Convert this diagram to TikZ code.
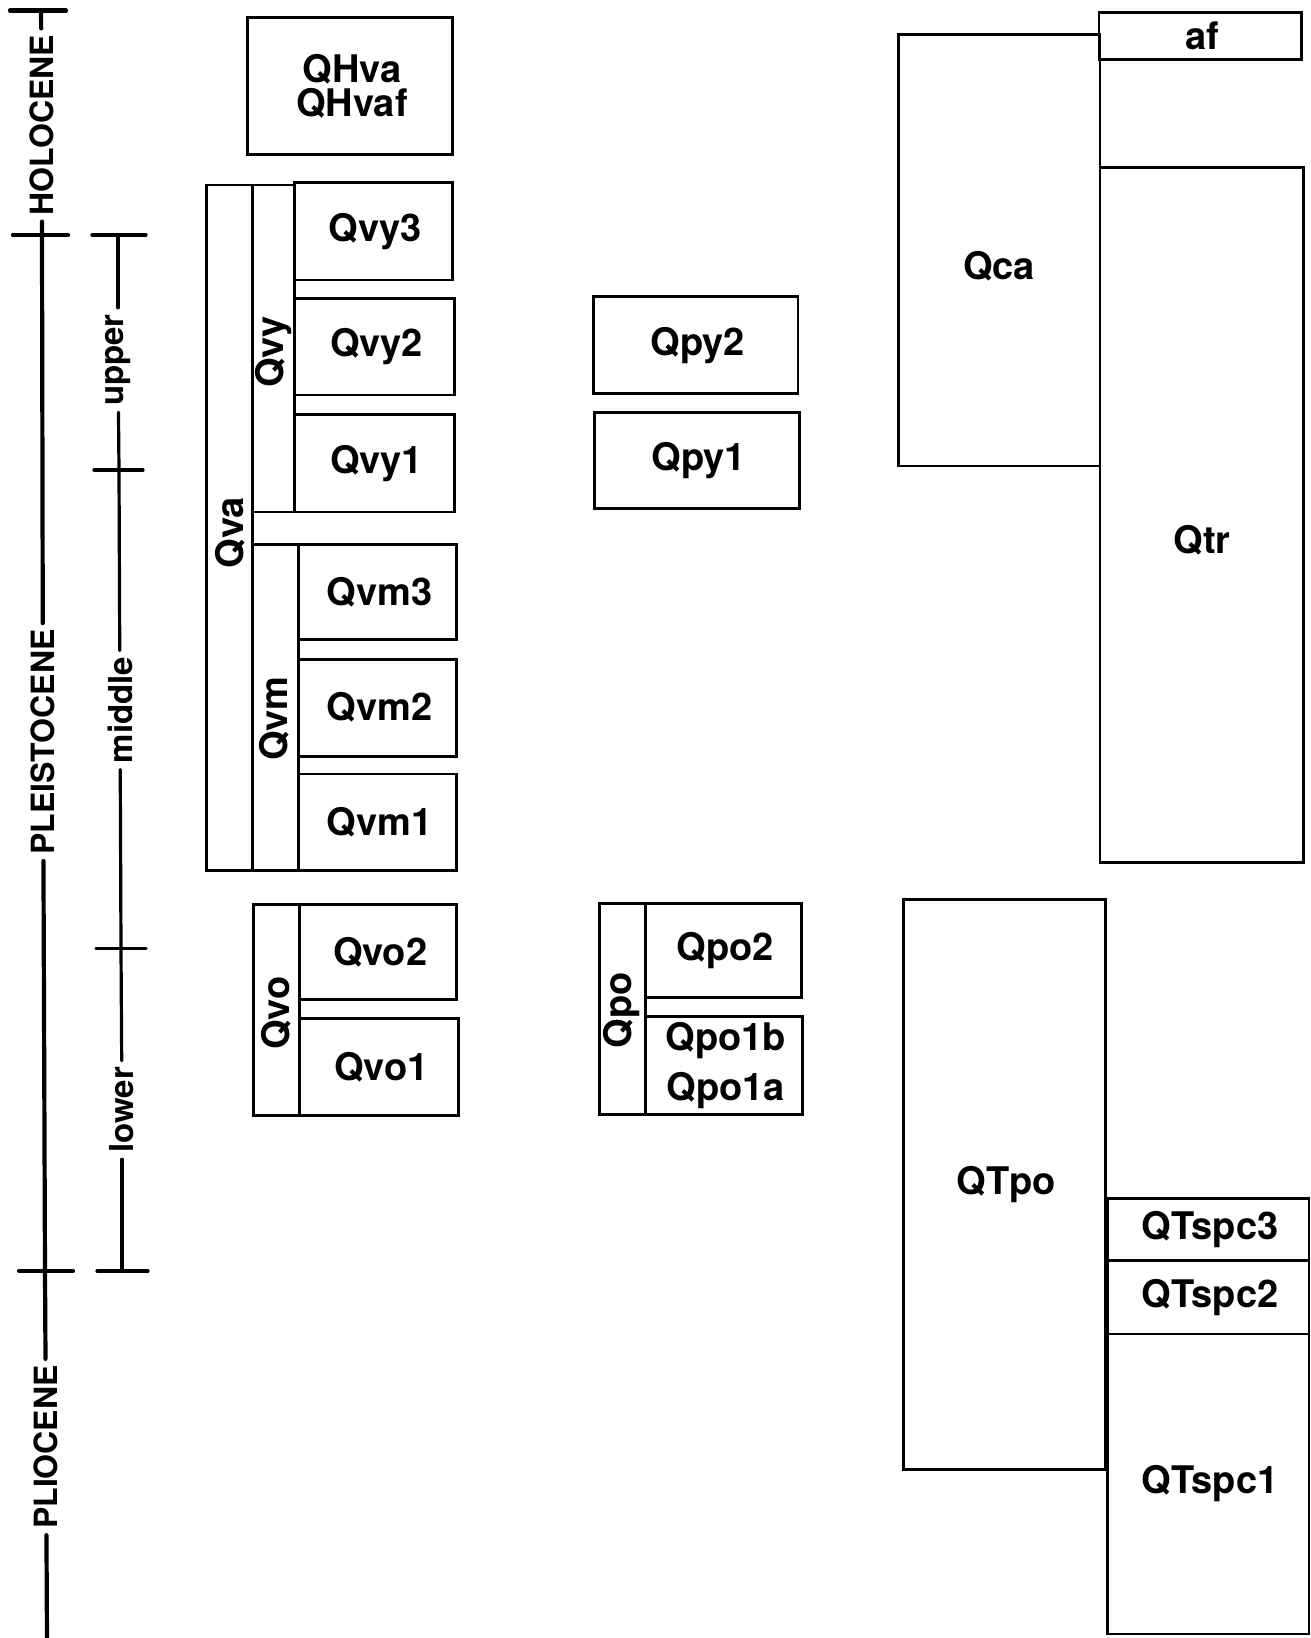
\documentclass[tikz,border=0pt]{standalone}
\usepackage{fontspec}
\setmainfont{TeX Gyre Heros}
\usetikzlibrary{fit}
\newcommand\gbox[6]{\node[box,fit={(#2,#3)(#4,#5)}] (#1) {};
  \node[lab] (#1-t) at ([xshift=1pt]#1.center) {#6};}
\begin{document}
\begin{tikzpicture}[x=0.5pt,y=-0.5pt,
  box/.style={draw, line width=1.4pt, inner sep=0pt},
  lab/.style={inner sep=0pt, align=center, font=\fontsize{19}{15.8}\selectfont\bfseries},
  rlab/.style={rotate=90, inner sep=0pt, font=\fontsize{19}{20}\selectfont\bfseries},
  epoch/.style={rotate=90, inner xsep=3pt, inner ysep=0pt, font=\fontsize{16}{18}\selectfont\bfseries},
  subep/.style={rotate=90, inner xsep=3pt, inner ysep=0pt, font=\fontsize{16.5}{18}\selectfont\bfseries},
  mainline/.style={line width=2.1pt, line cap=round},
  subline/.style={line width=1.6pt, line cap=round}]
\useasboundingbox (0,0) rectangle (1311,1638);

% main epoch timeline
\coordinate (m0) at (41,10.4);
\node[epoch] (holo) at (42,125) {HOLOCENE};
\coordinate (m1) at (42,235);
\node[epoch] (pleis) at (43,742) {PLEISTOCENE};
\coordinate (m2) at (45,1271);
\node[epoch] (plio) at (46,1447) {PLIOCENE};
\coordinate (m3) at (47,1640);
\draw[mainline] ([xshift=-15.5pt]m0) -- ([xshift=12.5pt]m0);
\draw[mainline] ([xshift=-14.5pt]m1) -- ([xshift=13pt]m1);
\draw[mainline] ([xshift=-13pt]m2) -- ([xshift=14pt]m2);
\draw[mainline] ([xshift=-13pt]m3) -- ([xshift=14pt]m3);
\draw[mainline] (m0) -- (holo);
\draw[mainline] (holo) -- (m1) -- (pleis);
\draw[mainline] (pleis) -- (m2) -- (plio);
\draw[mainline] (plio) -- (m3);

% sub-epoch timeline
\coordinate (s0) at (118,235);
\node[subep] (upper) at (118,360) {upper};
\coordinate (s1) at (119,470);
\node[subep] (middle) at (120,710) {middle};
\coordinate (s2) at (121,948.5);
\node[subep] (lower) at (122,1110) {lower};
\coordinate (s3) at (122,1271);
\draw[subline] ([xshift=-13pt]s0) -- ([xshift=14pt]s0);
\draw[subline] ([xshift=-12.5pt]s1) -- ([xshift=12pt]s1);
\draw[subline] ([xshift=-12.5pt]s2) -- ([xshift=12.5pt]s2);
\draw[subline] ([xshift=-12.5pt]s3) -- ([xshift=13pt]s3);
\draw[subline] (s0) -- (upper);
\draw[subline] (upper) -- (s1) -- (middle);
\draw[subline] (middle) -- (s2) -- (lower);
\draw[subline] (lower) -- (s3);

% volcanic units
\gbox{qhva}{247.6}{17.8}{452.3}{154.6}{QHva\\[1.5pt]QHvaf}
\gbox{qva}{206.8}{184.9}{252.8}{870.2}{}
\gbox{qvy}{252.8}{184.9}{294.6}{511.9}{}
\gbox{qvy3}{294.6}{182.8}{452.3}{280}{Qvy3}
\gbox{qvy2}{294.6}{298.8}{454.4}{394.9}{Qvy2}
\gbox{qvy1}{294.6}{414.7}{454.4}{511.9}{Qvy1}
\gbox{qvm}{252.8}{544.2}{298.8}{870.2}{}
\gbox{qvm3}{298.8}{544.2}{456.5}{639.3}{Qvm3}
\gbox{qvm2}{298.8}{659.1}{456.5}{756.3}{Qvm2}
\gbox{qvm1}{298.8}{774}{456.5}{870.2}{Qvm1}
\gbox{qvo}{253.8}{904.6}{299.8}{1115.6}{}
\gbox{qvo2}{299.8}{904.6}{456.5}{999.7}{Qvo2}
\gbox{qvo1}{299.8}{1018.5}{458.6}{1115.6}{Qvo1}
\node[rlab] (lqva) at (229.8,532.7) {Qva};
\node[rlab] (lqvy) at (273.7,352) {Qvy};
\node[rlab] (lqvm) at (274.5,718.7) {Qvm};
\node[rlab] (lqvo) at (276.5,1013) {Qvo};

% piedmont units
\gbox{qpy2}{593.3}{296.7}{798}{393.8}{Qpy2}
\gbox{qpy1}{594.4}{412.6}{799.1}{508.7}{Qpy1}
\gbox{qpo}{599.6}{903.6}{645.6}{1114.6}{}
\gbox{qpo2}{645.6}{903.6}{801.2}{997.6}{Qpo2}
\gbox{qpo1}{645.6}{1016.4}{802.3}{1114.6}{Qpo1b\\[6pt]Qpo1a}
\node[rlab] (lqpo) at (622,1010) {Qpo};

% right-hand units
\node[box,fit={(898.4,34.5)(1100,465.9)}] (qca) {};
\node[lab] (lqca) at (999,266) {Qca};
\gbox{af}{1098.9}{12.5}{1301.6}{59.5}{af}
\node[box,fit={(1100,167.1)(1303.7,862.8)}] (qtr) {};
\node[lab] (lqtr) at (1202,540) {Qtr};
\gbox{qtpo}{903.6}{899.4}{1105.2}{1469.8}{QTpo}
\gbox{qtspc3}{1107.3}{1198.2}{1308.9}{1260.8}{QTspc3}
\gbox{qtspc2}{1107.3}{1260.8}{1308.9}{1334}{QTspc2}
\gbox{qtspc1}{1107.3}{1334}{1308.9}{1634}{QTspc1}
\end{tikzpicture}
\end{document}
